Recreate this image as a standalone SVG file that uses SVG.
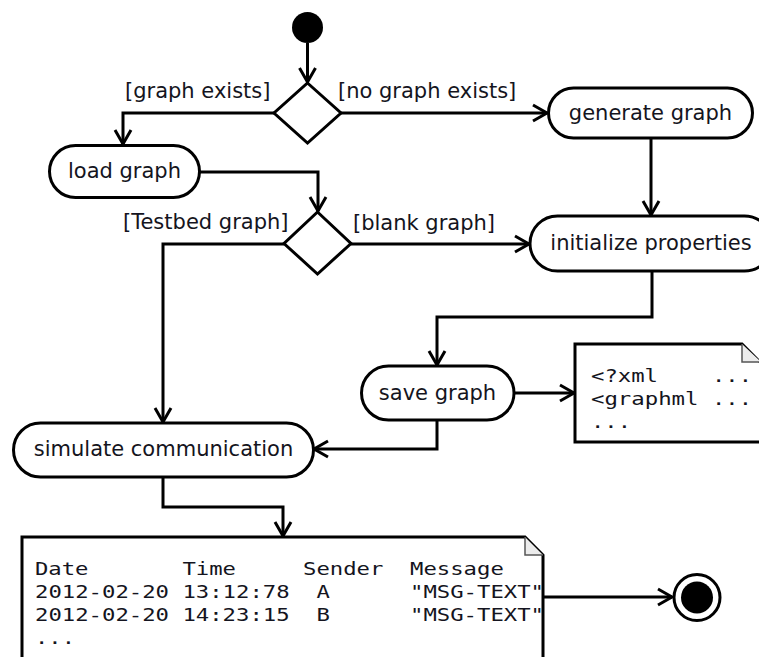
<svg xmlns="http://www.w3.org/2000/svg" width="759" height="657" viewBox="0 0 759 657">
<defs>
<marker id="arr" markerUnits="userSpaceOnUse" markerWidth="24" markerHeight="24" viewBox="-18 -12 24 24" refX="0" refY="0" orient="auto">
<path d="M-14,-8 L0,0 L-14,8" fill="none" stroke="#000" stroke-width="3" stroke-linejoin="miter"/>
</marker>
<style>
.box{fill:#fff;stroke:#000;stroke-width:3}
.lbl{font-family:"DejaVu Sans",Verdana,sans-serif;font-size:21px;fill:#141420}
.mid{text-anchor:middle}
.mono{font-family:"DejaVu Sans Mono","Liberation Mono",monospace;font-size:17.5px;fill:#141420}
.edge{fill:none;stroke:#000;stroke-width:3;marker-end:url(#arr)}
.fold{fill:#ececec;stroke:#555;stroke-width:1.5}
</style>
</defs>
<rect width="759" height="657" fill="#fff"/>

<g id="connectors">
<path class="edge" d="M307.5,43 L307.5,82"/>
<path class="edge" d="M274,113 L123,113 L123,144"/>
<path class="edge" d="M341,113 L547,113"/>
<path class="edge" d="M200,172 L318,172 L318,211"/>
<path class="edge" d="M284,244 L163,244 L163,422"/>
<path class="edge" d="M351,244 L529,244"/>
<path class="edge" d="M651,138 L651,215"/>
<path class="edge" d="M652,271 L652,317 L437,317 L437,365"/>
<path class="edge" d="M514,393 L574,393"/>
<path class="edge" d="M437,420 L437,449 L314,449"/>
<path class="edge" d="M163,477 L163,507 L283,507 L283,536"/>
<path class="edge" d="M543,597 L672,597"/>
</g>

<g id="guards">
<text class="lbl" x="125" y="98">[graph exists]</text>
<text class="lbl" x="338" y="98">[no graph exists]</text>
<text class="lbl" x="123" y="229">[Testbed graph]</text>
<text class="lbl" x="353" y="230">[blank graph]</text>
</g>

<g id="start">
<circle cx="307.5" cy="27.5" r="15.5" fill="#000"/>
</g>

<g id="decision1">
<path class="box" d="M307.5,83 L341,113 L307.5,143 L274,113 Z"/>
</g>

<g id="generate-graph">
<rect class="box" x="548.5" y="88" width="204" height="50" rx="25"/>
<text class="lbl mid" x="650.5" y="120">generate graph</text>
</g>

<g id="load-graph">
<rect class="box" x="49.5" y="145.5" width="150" height="52" rx="26"/>
<text class="lbl mid" x="124.5" y="177.5">load graph</text>
</g>

<g id="decision2">
<path class="box" d="M317.5,212 L351,243.5 L317.5,274 L284,243.5 Z"/>
</g>

<g id="initialize-properties">
<rect class="box" x="530" y="216" width="242" height="55" rx="27.5"/>
<text class="lbl mid" x="651" y="250">initialize properties</text>
</g>

<g id="save-graph">
<rect class="box" x="361.5" y="366" width="152.5" height="54" rx="27"/>
<text class="lbl mid" x="437.5" y="399.5">save graph</text>
</g>

<g id="graphml-note">
<path class="box" d="M575,344 L742,344 L761,363 L761,442 L575,442 Z"/>
<path class="fold" d="M742,344 L742,362 L761,362"/>
<text class="mono" x="591" y="382" textLength="67" lengthAdjust="spacingAndGlyphs">&lt;?xml</text>
<text class="mono" x="712" y="382" textLength="40" lengthAdjust="spacingAndGlyphs">...</text>
<text class="mono" x="591" y="404.5" textLength="107.5" lengthAdjust="spacingAndGlyphs">&lt;graphml</text>
<text class="mono" x="712" y="404.5" textLength="40" lengthAdjust="spacingAndGlyphs">...</text>
<text class="mono" x="591" y="428" textLength="40" lengthAdjust="spacingAndGlyphs">...</text>
</g>

<g id="simulate-communication">
<rect class="box" x="13.5" y="423" width="300" height="54" rx="27"/>
<text class="lbl mid" x="163.5" y="456">simulate communication</text>
</g>

<g id="log-note">
<path class="box" d="M22,537 L525,537 L543,555 L543,672 L22,672 Z"/>
<path class="fold" d="M525,537 L525,555 L543,555"/>
<text class="mono" x="35" y="574.5" textLength="53.5" lengthAdjust="spacingAndGlyphs">Date</text>
<text class="mono" x="182.4" y="574.5" textLength="53.5" lengthAdjust="spacingAndGlyphs">Time</text>
<text class="mono" x="303" y="574.5" textLength="80.4" lengthAdjust="spacingAndGlyphs">Sender</text>
<text class="mono" x="410" y="574.5" textLength="93.8" lengthAdjust="spacingAndGlyphs">Message</text>
<text class="mono" x="35" y="597.5" textLength="134" lengthAdjust="spacingAndGlyphs">2012-02-20</text>
<text class="mono" x="182.4" y="597.5" textLength="107.2" lengthAdjust="spacingAndGlyphs">13:12:78</text>
<text class="mono" x="316.4" y="597.5" textLength="13.4" lengthAdjust="spacingAndGlyphs">A</text>
<text class="mono" x="410" y="597.5" textLength="134" lengthAdjust="spacingAndGlyphs">"MSG-TEXT"</text>
<text class="mono" x="35" y="620.5" textLength="134" lengthAdjust="spacingAndGlyphs">2012-02-20</text>
<text class="mono" x="182.4" y="620.5" textLength="107.2" lengthAdjust="spacingAndGlyphs">14:23:15</text>
<text class="mono" x="316.4" y="620.5" textLength="13.4" lengthAdjust="spacingAndGlyphs">B</text>
<text class="mono" x="410" y="620.5" textLength="134" lengthAdjust="spacingAndGlyphs">"MSG-TEXT"</text>
<text class="mono" x="35" y="644" textLength="40" lengthAdjust="spacingAndGlyphs">...</text>
</g>

<g id="end">
<circle cx="697" cy="597.5" r="23" fill="#fff" stroke="#000" stroke-width="3"/>
<circle cx="697" cy="597.5" r="16" fill="#000"/>
</g>
</svg>
